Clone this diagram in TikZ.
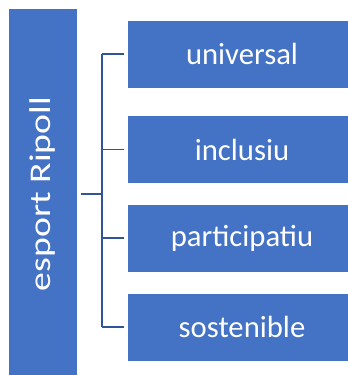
\documentclass[tikz,border=0pt]{standalone}
\usepackage{fontspec}
\setmainfont{Carlito}
\usepackage{tikz}
\definecolor{boxblue}{HTML}{4472C4}
\definecolor{linkblue}{HTML}{2F5597}

\begin{document}
\begin{tikzpicture}
  [x=0.75pt,y=-0.75pt,every node/.style={rectangle,draw=white,line width=0.6pt,fill=boxblue,text=white,inner sep=0pt},
   link/.style={draw=linkblue,line width=1.1pt}]
  \useasboundingbox (0,0) rectangle (348,375);
  \node (root) at (43,194) [minimum width=51.75pt,minimum height=279pt,font=\fontsize{22.5}{27}\selectfont]
    {\rotatebox{90}{\scalebox{1.26}[1]{esport Ripoll}}};

  \foreach \name/\y/\word in {uni/54/universal,inc/149.5/inclusiu,par/238/participatiu,sos/327/sostenible}
    \node (\name) at (242,\y) [minimum width=172.5pt,minimum height=51pt,font=\fontsize{23}{28}\selectfont] {\word};

  \coordinate (hub) at (102,194);
  \draw[link] ([xshift=2.25pt]root.east) -- (hub);
  \draw[link] (hub |- uni.west) -- (hub |- sos.west);
  \foreach \to in {uni,inc,par,sos}
    \draw[link] (hub |- \to.west) -- ([xshift=-2.25pt]\to.west);

\end{tikzpicture}
\end{document}
